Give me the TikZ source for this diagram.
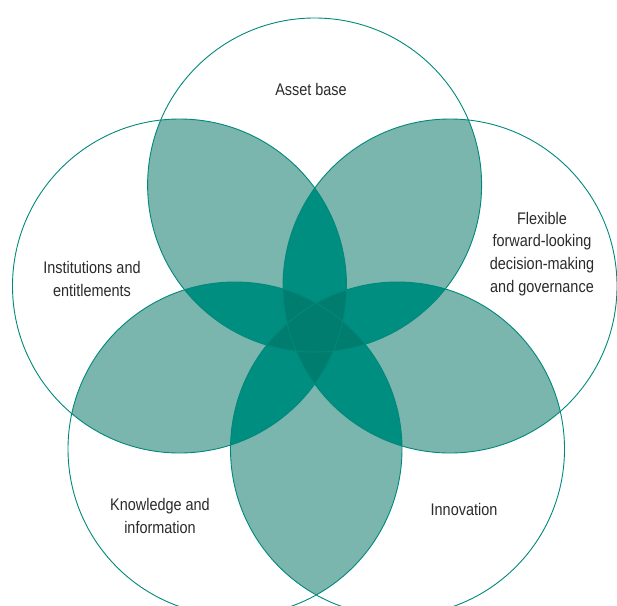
\documentclass[tikz,border=0pt]{standalone}
\usepackage{fontspec}
\setmainfont{Liberation Sans}[FakeStretch=0.86]
\definecolor{tealline}{HTML}{00897B}
\definecolor{lens}{HTML}{7AB5AE}
\definecolor{petal}{HTML}{008E80}
\definecolor{core}{HTML}{007D6F}
\definecolor{labtext}{HTML}{2A2A2A}
\begin{document}
\begin{tikzpicture}[x=1pt,y=-1pt,
    ring/.style={draw=tealline, line width=0.9pt},
    lab/.style={align=center, text=labtext, font=\fontsize{16.8}{22.7}\selectfont}]
    \useasboundingbox (0,0) rectangle (617,605);
    \clip (0,0) rectangle (617,605);
    \def\rad{167pt}

    % Circle centres
    \coordinate (c1) at (314.6,185);
    \coordinate (c2) at (179.5,286);
    \coordinate (c3) at (450,286);
    \coordinate (c4) at (235,449);
    \coordinate (c5) at (397.5,449);

    % Two circles
    \foreach \a/\b in {1/2,1/3,1/4,1/5,2/3,2/4,2/5,3/4,3/5,4/5} {
        \begin{scope}
            \clip (c\a) circle[radius=\rad];
            \fill[lens] (c\b) circle[radius=\rad];
        \end{scope}
    }

    % Three circles
    \foreach \a/\b/\c in {1/2/3,1/2/4,1/2/5,1/3/4,1/3/5,1/4/5,2/3/4,2/3/5,2/4/5,3/4/5} {
        \begin{scope}
            \clip (c\a) circle[radius=\rad];
            \clip (c\b) circle[radius=\rad];
            \fill[petal] (c\c) circle[radius=\rad];
        \end{scope}
    }

    % Four circles and more
    \foreach \a/\b/\c/\d in {1/2/3/4,1/2/3/5,1/2/4/5,1/3/4/5,2/3/4/5} {
        \begin{scope}
            \clip (c\a) circle[radius=\rad];
            \clip (c\b) circle[radius=\rad];
            \clip (c\c) circle[radius=\rad];
            \fill[core] (c\d) circle[radius=\rad];
        \end{scope}
    }

    % Outlines
    \foreach \i in {1,...,5}
        \draw[ring] (c\i) circle[radius=\rad];

    % Labels
    \node[lab] (asset) at (311,89) {Asset base};
    \node[lab] (inst) at (92,279) {Institutions and\\entitlements};
    \node[lab] (flex) at (542,254) {Flexible\\forward-looking\\decision-making\\and governance};
    \node[lab] (know) at (160,516) {Knowledge and\\information};
    \node[lab] (innov) at (464,509) {Innovation};
\end{tikzpicture}
\end{document}
